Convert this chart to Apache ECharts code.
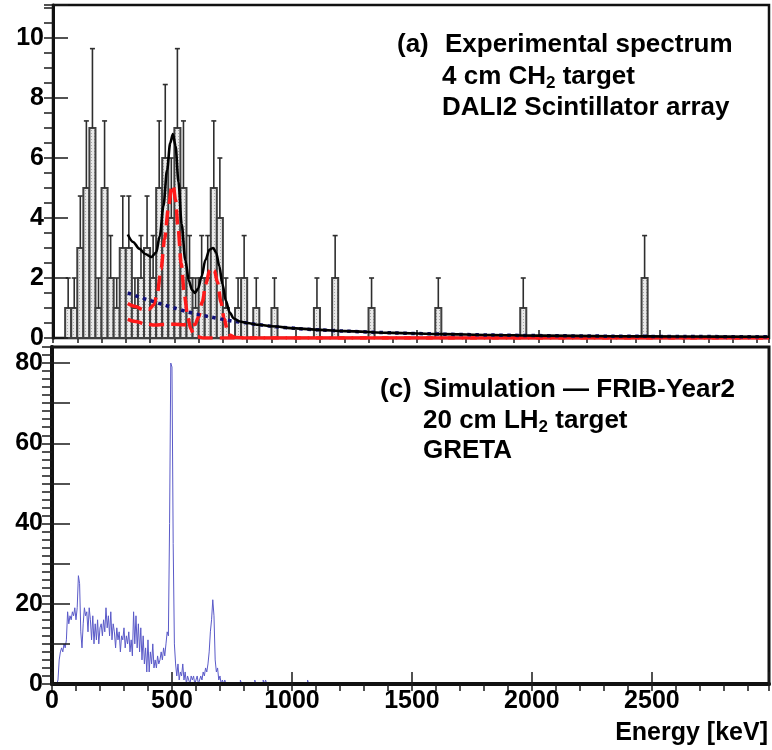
<!DOCTYPE html>
<html><head><meta charset="utf-8">
<script src="https://cdn.jsdelivr.net/npm/echarts@6/dist/echarts.min.js"></script>
<style>html,body{margin:0;padding:0;background:#fff}#c{width:772px;height:750px}</style>
</head><body><div id="c"></div>
<script>
const F = '"Liberation Sans", Arial, Helvetica, sans-serif';

// ---------- Panel (a): experimental spectrum, 25 keV bins starting at 0 keV ----------
const expBinWidth = 25;
const expCounts = [
  0,0,1,1,3,5,7,1,5,2,
  1,3,3,1,2,3,2,5,6,4,
  7,5,2,1,2,2,5,4,1,0,
  1,2,0,1,0,0,1,0,0,0,
  0,0,0,1,0,0,2,0,0,0,
  0,0,1,0,0,0,0,0,0,0,
  0,0,0,1,0,0,0,0,0,0,
  0,0,0,0,0,0,0,1,0,0,
  0,0,0,0,0,0,0,0,0,0,
  0,0,0,0,0,0,0,2,0,0
];
// fitted curves [keV, counts]
const fitTotal = [[308,3.45],[330,3.2],[355,2.98],[380,2.8],[405,2.7],[425,2.85],[440,3.4],[455,4.4],[470,5.6],[483,6.5],[494,6.8],[505,6.4],[517,5.2],[530,3.8],[545,2.6],[560,1.9],[573,1.6],[585,1.5],[598,1.65],[612,2.05],[628,2.6],[645,2.95],[660,3.0],[672,2.85],[685,2.4],[698,1.8],[712,1.25],[728,0.85],[745,0.65],[770,0.55],[800,0.5],[850,0.44],[900,0.39],[1000,0.32],[1100,0.27],[1200,0.23],[1400,0.17],[1600,0.13],[1800,0.1],[2000,0.08],[2300,0.06],[2600,0.05],[2950,0.04]];
const fitPeak500 = [[308,1.15],[340,1.05],[370,0.95],[395,0.95],[415,1.1],[430,1.5],[445,2.3],[460,3.3],[475,4.3],[488,5.0],[495,5.1],[505,4.6],[515,3.7],[528,2.5],[542,1.4],[555,0.7],[568,0.3],[580,0.12],[595,0.04],[620,0],[2950,0]];
const fitPeak660 = [[308,0.62],[340,0.55],[380,0.47],[420,0.43],[460,0.45],[500,0.46],[540,0.44],[565,0.42],[585,0.45],[600,0.7],[615,1.2],[630,1.8],[645,2.25],[655,2.35],[665,2.25],[678,1.85],[692,1.2],[705,0.65],[718,0.28],[732,0.08],[750,0.02],[800,0],[2950,0]];
const fitBackground = [[308,1.5],[350,1.38],[400,1.25],[450,1.12],[500,1.0],[550,0.88],[600,0.78],[650,0.7],[700,0.62],[750,0.55],[800,0.5],[850,0.44],[900,0.39],[1000,0.32],[1100,0.27],[1200,0.23],[1400,0.17],[1600,0.13],[1800,0.1],[2000,0.08],[2300,0.06],[2600,0.05],[2950,0.04]];

// ---------- Panel (c): simulation, 5 keV bins starting at 20 keV ----------
const simBinStart = 20;
const simBinWidth = 5;
const simCounts = [
  0,1,6,8,9,8,10,9,11,18,
  15,17,16,18,17,19,16,19,27,25,
  13,9,15,19,17,18,13,19,16,11,
  17,10,15,11,16,10,14,15,12,16,
  13,19,14,17,12,18,11,15,13,9,
  14,11,13,8,12,11,14,9,12,10,
  13,8,11,7,18,10,17,9,15,8,
  14,6,12,5,9,3,11,3,8,5,
  10,4,6,4,7,5,6,8,6,9,
  7,10,13,12,40,80,79,35,10,5,
  2,5,1,3,2,5,1,3,0,2,
  1,0,2,1,2,0,1,2,0,1,
  2,1,3,2,4,3,5,8,13,16,
  21,17,6,3,4,1,2,0,1,0,
  1,0
];
const simTail = [[785,1],[845,1],[880,1],[890,1],[1065,1]];

// axis labels
const xTickLabels = [0,500,1000,1500,2000,2500];
const topYLabels = [0,2,4,6,8,10];
const botYLabels = [0,20,40,60,80];

// ---------- build series data ----------
const expBars = [];
expCounts.forEach((c, i) => { if (c > 0) expBars.push([i*expBinWidth, (i+1)*expBinWidth, c, Math.sqrt(c)]); });

const simData = [];
simCounts.forEach((c, i) => simData.push([simBinStart + i*simBinWidth, c]));
const lastEdge = simBinStart + simCounts.length*simBinWidth;
simData.push([lastEdge, 0]);
simTail.forEach(([e, c]) => { simData.push([e, c]); simData.push([e + simBinWidth, 0]); });
simData.push([1200, 0]);

// dotted fill pattern for the histogram bars
const pat = document.createElement('canvas');
pat.width = 3; pat.height = 3;
(function(){
  const g = pat.getContext('2d');
  g.fillStyle = '#e9e9e9'; g.fillRect(0,0,3,3);
  g.fillStyle = '#a8a8a8'; g.fillRect(1,1,1,1);
})();

const chart = echarts.init(document.getElementById('c'), null, {renderer:'canvas', width:772, height:750});

const lbl = {fontSize:25, fontWeight:'bold', fontFamily:F, color:'#000'};
const tk = (len, w) => ({show:true, inside:true, length:len, lineStyle:{color:'#1a1a1a', width:w||1.5}});

function txt(x, y, text, size, align) {
  return {type:'text', x:x, y:y, z:50, style:{text:text, fontSize:size, fontWeight:'bold', fontFamily:F, fill:'#000', align:align||'left', verticalAlign:'middle'}};
}
function subTxt(x, y, before, sub, after, size) {
  return {type:'text', x:x, y:y, z:50, style:{
    text:'{a|'+before+'}{b|'+sub+'}{a|'+after+'}', align:'left', verticalAlign:'middle',
    rich:{
      a:{fontSize:size, fontWeight:'bold', fontFamily:F, fill:'#000', lineHeight:30},
      b:{fontSize:Math.round(size*0.65), fontWeight:'bold', fontFamily:F, fill:'#000', verticalAlign:'bottom'}
    }}};
}

const option = {
  animation:false,
  backgroundColor:'#fff',
  grid:[
    {left:53, top:5, width:716, height:333, show:true, borderColor:'#111', borderWidth:2.5},
    {left:52, top:347, width:717, height:337, show:true, borderColor:'#111', borderWidth:3}
  ],
  xAxis:[
    {gridIndex:0, type:'value', min:0, max:2950, interval:500, z:1,
     axisLine:{show:true, lineStyle:{color:'#111', width:2}}, axisTick:tk(8), axisLabel:{show:false}, splitLine:{show:false}},
    {gridIndex:0, type:'value', min:0, max:2950, interval:100, z:1,
     axisLine:{show:false}, axisTick:tk(5), axisLabel:{show:false}, splitLine:{show:false}},
    {gridIndex:1, type:'value', min:0, max:2988, interval:500, z:5,
     axisLine:{show:true, lineStyle:{color:'#111', width:4}}, axisTick:tk(12),
     axisLabel:Object.assign({margin:5, formatter:v => xTickLabels.includes(v) ? String(v) : ''}, lbl), splitLine:{show:false}},
    {gridIndex:1, type:'value', min:0, max:2988, interval:100, z:5,
     axisLine:{show:false}, axisTick:tk(7), axisLabel:{show:false}, splitLine:{show:false}}
  ],
  yAxis:[
    {gridIndex:0, type:'value', min:0, max:11.1, interval:2, z:5,
     axisLine:{show:true, lineStyle:{color:'#111', width:3}}, axisTick:tk(15),
     axisLabel:Object.assign({margin:9, formatter:v => topYLabels.includes(v) ? String(v) : ''}, lbl), splitLine:{show:false}},
    {gridIndex:0, type:'value', min:0, max:11.1, interval:0.5, z:5,
     axisLine:{show:false}, axisTick:tk(9), axisLabel:{show:false}, splitLine:{show:false}},
    {gridIndex:1, type:'value', min:0, max:84, interval:10, z:5,
     axisLine:{show:true, lineStyle:{color:'#111', width:4}}, axisTick:tk(18),
     axisLabel:Object.assign({margin:9, formatter:v => botYLabels.includes(v) ? String(v) : ''}, lbl), splitLine:{show:false}},
    {gridIndex:1, type:'value', min:0, max:84, interval:2, z:5,
     axisLine:{show:false}, axisTick:tk(10), axisLabel:{show:false}, splitLine:{show:false}}
  ],
  series:[
    {type:'custom', xAxisIndex:0, yAxisIndex:0, data:expBars, encode:{x:[0,1], y:2}, z:2,
     renderItem:function(params, api){
       const x0 = api.value(0), x1 = api.value(1), v = api.value(2), e = api.value(3);
       const pa = api.coord([x0, 0]), pb = api.coord([x1, v]);
       const pm = api.coord([(x0+x1)/2, v]), pe = api.coord([(x0+x1)/2, v+e]);
       return {type:'group', children:[
         {type:'rect', shape:{x:pa[0], y:pb[1], width:pb[0]-pa[0], height:pa[1]-pb[1]},
          style:{fill:{image:pat, repeat:'repeat'}, stroke:'#404040', lineWidth:2}},
         {type:'line', shape:{x1:pm[0], y1:pm[1], x2:pe[0], y2:pe[1]}, style:{stroke:'#2e2e2e', lineWidth:1.6}},
         {type:'line', shape:{x1:pe[0]-2.5, y1:pe[1], x2:pe[0]+2.5, y2:pe[1]}, style:{stroke:'#2e2e2e', lineWidth:1.6}}
       ]};
     }},
    {type:'line', xAxisIndex:0, yAxisIndex:0, data:fitPeak500, smooth:0.3, smoothMonotone:'x', symbol:'none', z:3,
     lineStyle:{color:'#ff1a1a', width:3.5, type:[15,7]}},
    {type:'line', xAxisIndex:0, yAxisIndex:0, data:fitPeak660, smooth:0.3, smoothMonotone:'x', symbol:'none', z:3,
     lineStyle:{color:'#ff1a1a', width:3.5, type:[15,7]}},
    {type:'line', xAxisIndex:0, yAxisIndex:0, data:fitBackground, smooth:0.3, symbol:'none', z:4,
     lineStyle:{color:'#10107a', width:3.5, type:[3.5,4.5]}},
    {type:'line', xAxisIndex:0, yAxisIndex:0, data:fitTotal, smooth:0.3, smoothMonotone:'x', symbol:'none', z:4,
     lineStyle:{color:'#000', width:2.6}},
    {type:'line', xAxisIndex:2, yAxisIndex:2, data:simData, step:'end', symbol:'none', z:2,
     lineStyle:{color:'#5a5ac8', width:1}}
  ],
  graphic:[
    txt(397, 45, '(a)', 26),
    txt(445, 45, 'Experimental spectrum', 26),
    subTxt(442, 77, '4 cm CH', '2', ' target', 26),
    txt(442, 108, 'DALI2 Scintillator array', 26),
    txt(380, 390, '(c)', 26),
    txt(423, 390, 'Simulation \u2014 FRIB-Year2', 26),
    subTxt(423, 421, '20 cm LH', '2', ' target', 26),
    txt(423, 451, 'GRETA', 26),
    txt(768, 733, 'Energy [keV]', 25, 'right')
  ]
};
chart.setOption(option);
</script>
</body></html>
